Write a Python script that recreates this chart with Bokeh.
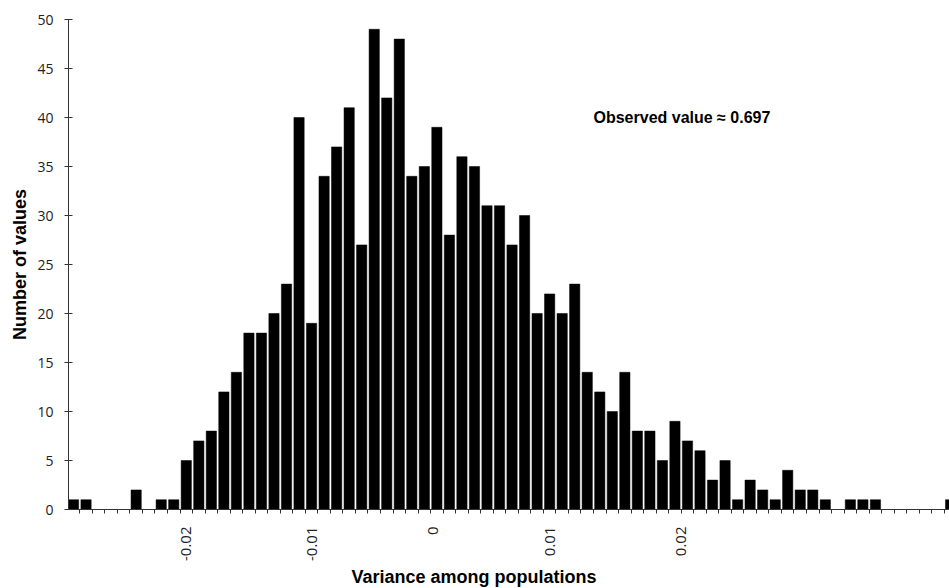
import math
from bokeh.plotting import figure
from bokeh.models import FixedTicker, Label, Range1d, ColumnDataSource, Title
from bokeh.embed import file_html
from bokeh.resources import INLINE

# Histogram counts, one per category (bin), left to right
counts = [1, 1, 0, 0, 0, 2, 0, 1, 1, 5,
          7, 8, 12, 14, 18, 18, 20, 23, 40, 19,
          34, 37, 41, 27, 49, 42, 48, 34, 35, 39,
          28, 36, 35, 31, 31, 27, 30, 20, 22, 20,
          23, 14, 12, 10, 14, 8, 8, 5, 9, 7,
          6, 3, 5, 1, 3, 2, 1, 4, 2, 2,
          1, 0, 1, 1, 1, 0, 0, 0, 0, 0,
          1]
categories = list(range(len(counts)))

# x tick labels and the category position they sit at
tick_labels = ["-0.02", "-0.01", "0", "0.01", "0.02"]
tick_positions = [9.5, 19.5, 29.2, 38.5, 49.0]

y_ticks = [0, 5, 10, 15, 20, 25, 30, 35, 40, 45, 50]

annotation_text = "Observed value \u2248 0.697"
annotation_pos = (42.0, 40.0)

x_title = "Variance among populations"

centers = [c + 0.5 for c in categories]
src = ColumnDataSource(dict(x=centers, top=counts))

p = figure(width=949, height=588, output_backend="svg", toolbar_location=None,
           x_range=Range1d(0.1, 0.1 + 881 / 12.53), y_range=Range1d(0, 50),
           min_border_left=68, min_border_right=0, min_border_top=19,
           min_border_bottom=79)
p.outline_line_color = None
p.xgrid.visible = False
p.ygrid.visible = False
p.background_fill_color = "white"
p.border_fill_color = "white"

p.vbar(x="x", top="top", bottom=0, width=0.82, source=src,
       fill_color="black", line_color="black", line_width=0.5)

# y axis
ya = p.yaxis[0]
ya.ticker = FixedTicker(ticks=y_ticks)
ya.major_tick_in = 4
ya.major_tick_out = 4
ya.minor_tick_line_color = None
ya.axis_line_color = "#333333"
ya.major_tick_line_color = "#333333"
ya.major_label_standoff = 11
ya.major_label_text_font = "Open Sans"
ya.major_label_text_font_size = "14px"
ya.major_label_text_color = "#222222"
ya.axis_label = "Number of values"
ya.axis_label_text_font = "Liberation Sans"
ya.axis_label_text_font_style = "bold"
ya.axis_label_text_font_size = "18px"
ya.axis_label_text_color = "black"
ya.axis_label_standoff = 4

# x axis
xa = p.xaxis[0]
xa.ticker = FixedTicker(ticks=tick_positions, minor_ticks=[c for c in categories] + [len(counts)])
xa.major_label_overrides = {pos: lab for pos, lab in zip(tick_positions, tick_labels)}
xa.major_tick_line_color = None
xa.major_tick_in = 0
xa.major_tick_out = 0
xa.minor_tick_in = 0
xa.minor_tick_out = 4
xa.minor_tick_line_color = "#333333"
xa.axis_line_color = "#333333"
xa.major_label_orientation = math.pi / 2
xa.major_label_standoff = 13
xa.major_label_text_font = "Open Sans"
xa.major_label_text_font_size = "15px"
xa.major_label_text_color = "#222222"

p.add_layout(Title(text=x_title, align="left", offset=283, standoff=3,
                   text_font="Liberation Sans", text_font_style="bold",
                   text_font_size="18px", text_color="black"), "below")

p.add_layout(Label(x=annotation_pos[0], y=annotation_pos[1], text=annotation_text,
                   text_font="Liberation Sans", text_font_style="bold",
                   text_font_size="16px", text_baseline="middle", text_align="left",
                   text_color="black"))

open("out.html", "w").write(file_html(p, INLINE))
